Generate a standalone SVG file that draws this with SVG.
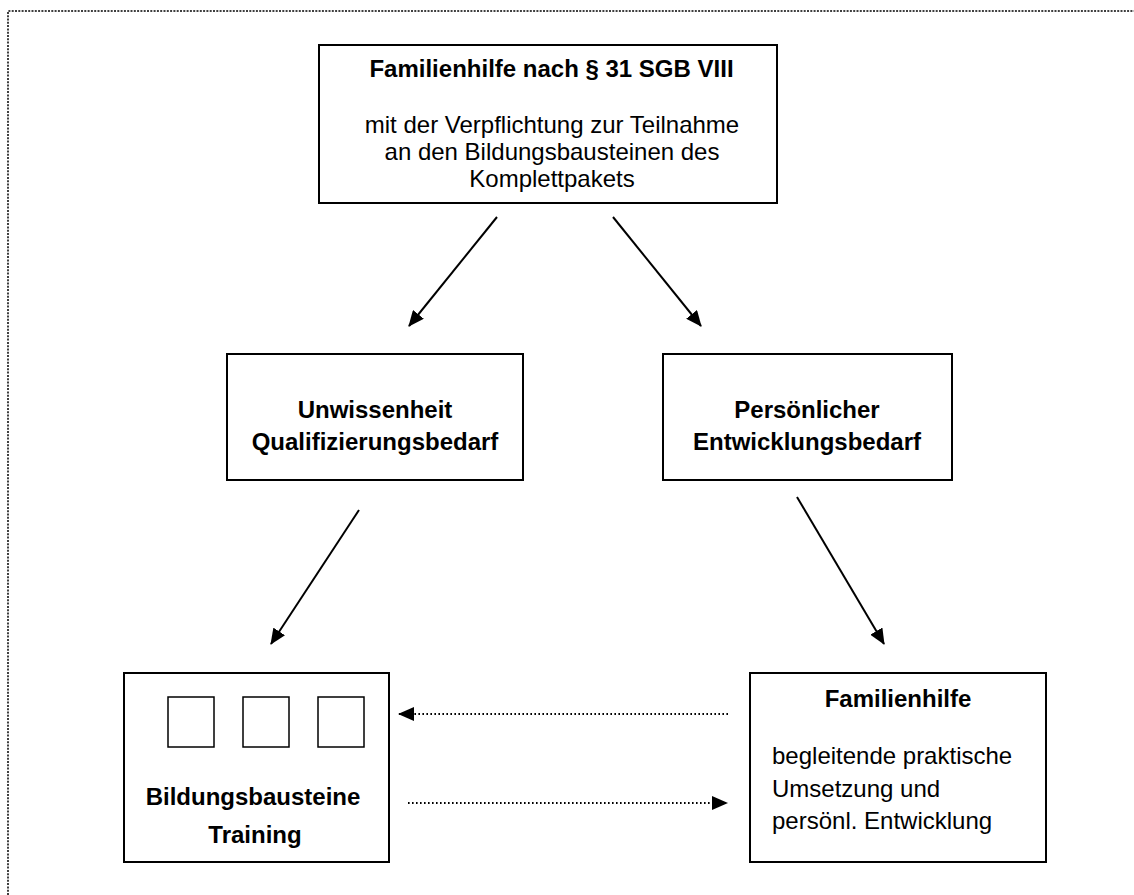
<svg xmlns="http://www.w3.org/2000/svg" width="1134" height="895" viewBox="0 0 1134 895">
<defs>
<style>
.box{fill:#fff;stroke:#000;stroke-width:2}
.sq{fill:#fff;stroke:#000;stroke-width:1.5}
.b{font-family:"Liberation Sans",Arial,sans-serif;font-weight:bold;font-size:24px;fill:#000}
.r{font-family:"Liberation Sans",Arial,sans-serif;font-size:24px;fill:#000}
.c{text-anchor:middle}
.arr{stroke:#000;stroke-width:2;fill:none;marker-end:url(#ah)}
.dot{stroke:#000;stroke-width:2;fill:none;stroke-dasharray:1.6 2.4;marker-end:url(#ah)}
</style>
<marker id="ah" viewBox="0 0 16 14" refX="15" refY="7" markerWidth="16" markerHeight="14" markerUnits="userSpaceOnUse" orient="auto">
<path d="M0,0 L16,7 L0,14 z" fill="#000"/>
</marker>
</defs>
<rect width="1134" height="895" fill="#fff"/>
<path d="M8,895 V11 H1134" fill="none" stroke="#000" stroke-width="1.5" stroke-dasharray="2 1.3"/>

<g id="node-top">
<rect class="box" x="319" y="45" width="458" height="158"/>
<text class="b c" x="551.5" y="77">Familienhilfe nach § 31 SGB VIII</text>
<text class="r c" x="552" y="133">mit der Verpflichtung zur Teilnahme</text>
<text class="r c" x="552" y="160">an den Bildungsbausteinen des</text>
<text class="r c" x="552" y="187">Komplettpakets</text>
</g>

<g id="node-unwissenheit">
<rect class="box" x="227" y="354" width="296" height="126"/>
<text class="b c" x="375" y="418">Unwissenheit</text>
<text class="b c" x="375" y="450">Qualifizierungsbedarf</text>
</g>

<g id="node-persoenlich">
<rect class="box" x="663" y="354" width="289" height="126"/>
<text class="b c" x="807" y="418">Persönlicher</text>
<text class="b c" x="807" y="450">Entwicklungsbedarf</text>
</g>

<g id="node-bildung">
<rect class="box" x="124" y="673" width="265" height="189"/>
<rect class="sq" x="168" y="697" width="46" height="50"/>
<rect class="sq" x="243" y="697" width="46" height="50"/>
<rect class="sq" x="318" y="697" width="46" height="50"/>
<text class="b c" x="253" y="805">Bildungsbausteine</text>
<text class="b c" x="255" y="843">Training</text>
</g>

<g id="node-familienhilfe">
<rect class="box" x="750" y="673" width="296" height="189"/>
<text class="b c" x="898" y="707">Familienhilfe</text>
<text class="r" x="772" y="764">begleitende praktische</text>
<text class="r" x="772" y="797">Umsetzung und</text>
<text class="r" x="772" y="829">persönl. Entwicklung</text>
</g>

<g id="connectors">
<line class="arr" x1="497" y1="217" x2="409" y2="326"/>
<line class="arr" x1="613" y1="217" x2="701" y2="326"/>
<line class="arr" x1="359" y1="510" x2="271" y2="644"/>
<line class="arr" x1="797" y1="497" x2="884" y2="644"/>
<line class="dot" x1="728" y1="714" x2="399" y2="714"/>
<line class="dot" x1="408" y1="803" x2="727" y2="803"/>
</g>
</svg>
